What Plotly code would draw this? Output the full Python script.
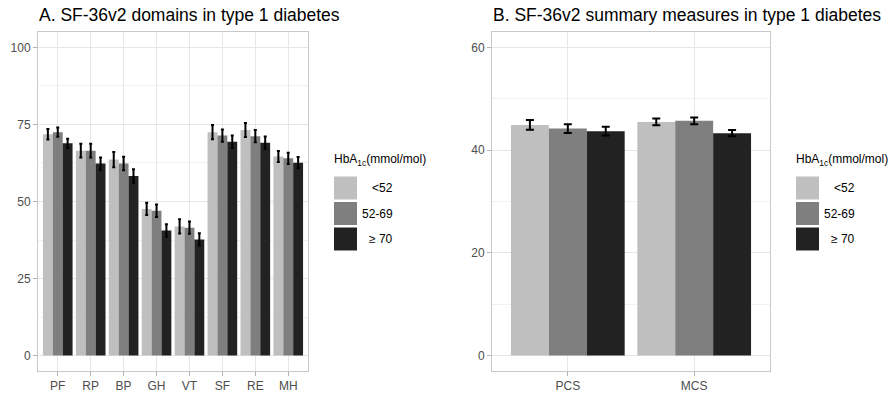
import plotly.graph_objects as go

# ---------------- data ----------------
domains = ["PF", "RP", "BP", "GH", "VT", "SF", "RE", "MH"]
summary = ["PCS", "MCS"]
groups = ["<52", "52-69", "\u2265 70"]
legend_title = "HbA<sub>1c</sub>(mmol/mol)"

dom_lt52 = [71.8, 66.5, 63.6, 47.6, 41.9, 72.5, 73.2, 64.6]
dom_52_69 = [72.5, 66.5, 62.3, 47.0, 41.5, 71.4, 71.2, 64.0]
dom_ge70 = [68.9, 62.3, 58.3, 40.6, 37.7, 69.4, 69.1, 62.6]
dom_err_lt52 = [1.7, 2.2, 2.5, 2.0, 2.3, 2.3, 2.3, 1.8]
dom_err_52_69 = [1.5, 2.2, 2.2, 2.0, 2.0, 2.0, 2.0, 1.8]
dom_err_ge70 = [1.5, 2.0, 2.2, 2.0, 2.0, 2.0, 2.0, 1.8]

sum_lt52 = [44.9, 45.5]
sum_52_69 = [44.2, 45.7]
sum_ge70 = [43.7, 43.3]
sum_err_lt52 = [0.95, 0.65]
sum_err_52_69 = [0.85, 0.65]
sum_err_ge70 = [0.85, 0.6]

colors = ["#BFBFBF", "#7F7F7F", "#222222"]
title_a = "A. SF-36v2 domains in type 1 diabetes"
title_b = "B. SF-36v2 summary measures in type 1 diabetes"

# ---------------- layout geometry ----------------
W, H = 894, 395
L, R, T, B = 38, 124, 32, 24
PW, PH = W - L - R, H - T - B
FONT = "Liberation Sans, Arial, sans-serif"


def px(x):
    return (x - L) / PW


def py(y):
    return 1 - (y - T) / PH


fig = go.Figure()

dom_vals = [dom_lt52, dom_52_69, dom_ge70]
dom_errs = [dom_err_lt52, dom_err_52_69, dom_err_ge70]
sum_vals = [sum_lt52, sum_52_69, sum_ge70]
sum_errs = [sum_err_lt52, sum_err_52_69, sum_err_ge70]

for i, g in enumerate(groups):
    fig.add_trace(go.Bar(
        x=domains, y=dom_vals[i], name=g, marker=dict(color=colors[i], line=dict(width=0)),
        error_y=dict(type="data", array=dom_errs[i], color="black", thickness=2, width=1.5),
        xaxis="x", yaxis="y", offsetgroup=str(i), showlegend=False,
    ))
    fig.add_trace(go.Bar(
        x=summary, y=sum_vals[i], name=g, marker=dict(color=colors[i], line=dict(width=0)),
        error_y=dict(type="data", array=sum_errs[i], color="black", thickness=2, width=4),
        xaxis="x2", yaxis="y2", offsetgroup=str(i), showlegend=False,
    ))

axis_common = dict(
    showline=True, mirror=True, linecolor="#C8C8C8", linewidth=1,
    ticks="outside", tickcolor="#B3B3B3", ticklen=4, tickwidth=1,
    tickfont=dict(family=FONT, size=12, color="#4D4D4D"),
    showgrid=True, gridcolor="#E6E6E6", gridwidth=1, zeroline=False,
    automargin=False,
)

xa_end = px(308)
xb_start = px(492)

fig.update_layout(
    width=W, height=H,
    margin=dict(l=L, r=R, t=T, b=B, autoexpand=False),
    paper_bgcolor="white", plot_bgcolor="white",
    barmode="group", bargap=0.1, bargroupgap=0,
    showlegend=False,
    font=dict(family=FONT),
    xaxis=dict(domain=[0, xa_end], range=[-0.6, 7.6], anchor="y", **axis_common),
    yaxis=dict(domain=[0, 1], range=[-5, 105], tickvals=[0, 25, 50, 75, 100], anchor="x",
               minor=dict(tickvals=[12.5, 37.5, 62.5, 87.5], showgrid=True,
                          gridcolor="#F2F2F2", gridwidth=1, ticks=""),
               **axis_common),
    xaxis2=dict(domain=[xb_start, 1], range=[-0.6, 1.6], anchor="y2", **axis_common),
    yaxis2=dict(domain=[0, 1], range=[-3, 63], tickvals=[0, 20, 40, 60], anchor="x2",
                minor=dict(tickvals=[10, 30, 50], showgrid=True,
                           gridcolor="#F2F2F2", gridwidth=1, ticks=""),
                **axis_common),
)

annotations = []
shapes = []

# panel titles
for title, x0 in [(title_a, 37), (title_b, 491)]:
    annotations.append(dict(
        text=title, xref="paper", yref="paper", x=px(x0), y=py(15),
        xanchor="left", yanchor="middle", showarrow=False,
        font=dict(family=FONT, size=17.5, color="black"),
    ))

# legends (drawn for each panel)
KEY = 23
for key_left, text_right in [(334, 395), (796, 857)]:
    annotations.append(dict(
        text=legend_title, xref="paper", yref="paper", x=px(key_left - 2), y=py(160),
        xanchor="left", yanchor="middle", showarrow=False,
        font=dict(family=FONT, size=12, color="black"),
    ))
    for i, g in enumerate(groups):
        top = 176.5 + i * 25.5
        shapes.append(dict(
            type="rect", xref="paper", yref="paper",
            x0=px(key_left), x1=px(key_left + KEY), y0=py(top + KEY), y1=py(top),
            fillcolor=colors[i], line=dict(width=0), layer="above",
        ))
        annotations.append(dict(
            text=g, xref="paper", yref="paper", x=px(text_right), y=py(top + KEY / 2),
            xanchor="right", yanchor="middle", showarrow=False,
            font=dict(family=FONT, size=12, color="black"),
        ))

fig.update_layout(annotations=annotations, shapes=shapes)

fig.write_html(
    "out.html",
    config={"displayModeBar": False},
    post_script="document.body.style.margin='0';document.body.style.overflow='hidden';",
)
